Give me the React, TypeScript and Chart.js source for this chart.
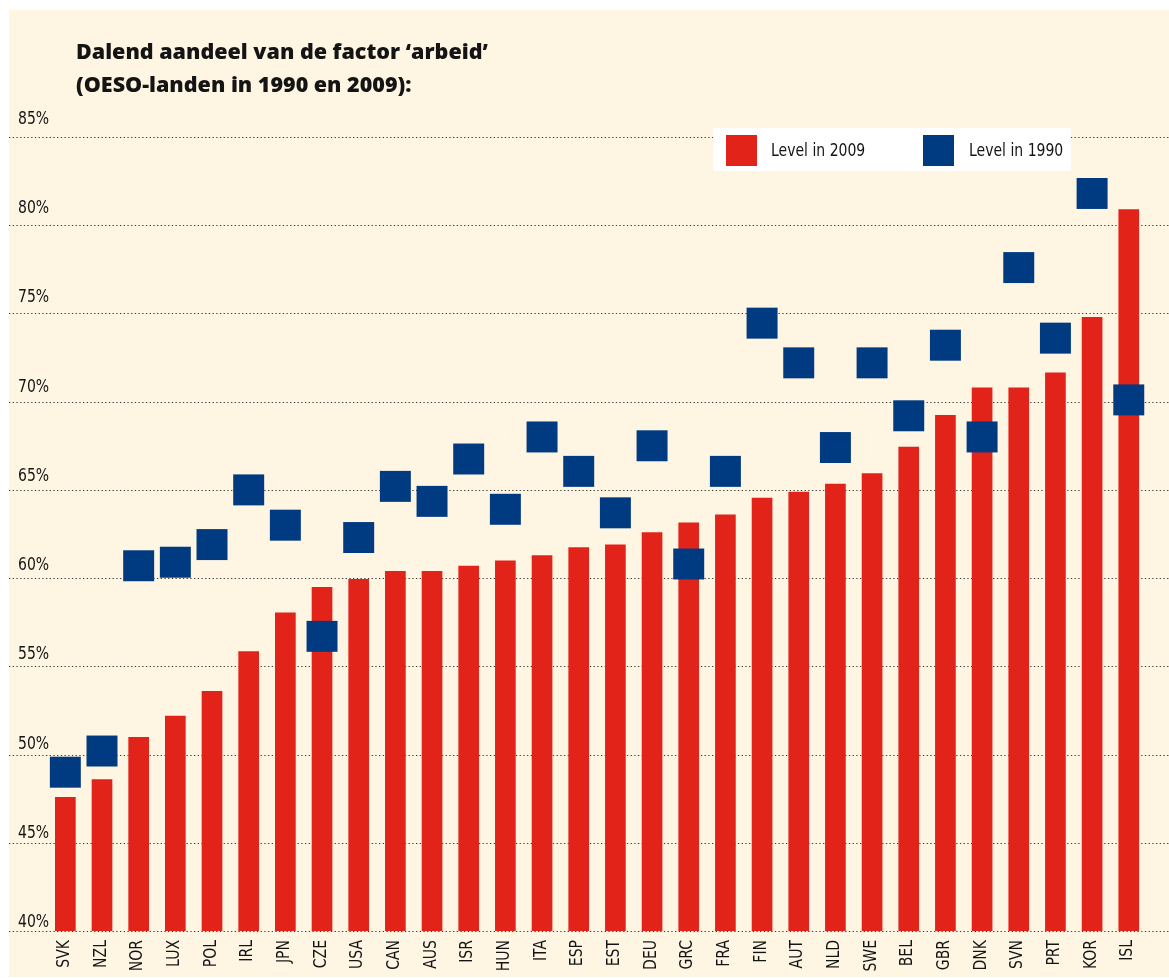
import React, { useEffect, useRef } from 'react';
import { Chart, registerables } from 'chart.js';

Chart.register(...registerables);

const countries = ['SVK', 'NZL', 'NOR', 'LUX', 'POL', 'IRL', 'JPN', 'CZE', 'USA', 'CAN', 'AUS', 'ISR', 'HUN', 'ITA', 'ESP', 'EST', 'DEU', 'GRC', 'FRA', 'FIN', 'AUT', 'NLD', 'SWE', 'BEL', 'GBR', 'DNK', 'SVN', 'PRT', 'KOR', 'ISL'];
const level2009 = [47.6, 48.6, 51.0, 52.2, 53.6, 55.85, 58.05, 59.5, 59.95, 60.4, 60.4, 60.7, 61.0, 61.3, 61.75, 61.9, 62.6, 63.15, 63.6, 64.55, 64.9, 65.35, 65.95, 67.45, 69.25, 70.8, 70.8, 71.65, 74.8, 80.9];
const level1990 = [49.0, 50.2, 60.7, 60.9, 61.9, 65.0, 63.0, 56.7, 62.3, 65.2, 64.35, 66.75, 63.9, 68.0, 66.05, 63.7, 67.5, 60.8, 66.05, 74.45, 72.2, 67.4, 72.2, 69.2, 73.2, 68.0, 77.6, 73.6, 81.8, 70.1];
const yTicks = [40, 45, 50, 55, 60, 65, 70, 75, 80, 85];
const titleLines = ['Dalend aandeel van de factor \u2018arbeid\u2019', '(OESO-landen in 1990 en 2009):'];
const seriesLabels = ['Level in 2009', 'Level in 1990'];

const W = 1169;
const H = 978;
const RED = '#E2231A';
const BLUE = '#003A80';
const CREAM = '#FEF5E3';
const TEXT = '#141414';
const NARROW = '17.5px "DejaVu Sans Condensed", "DejaVu Sans", sans-serif';
const SQX = 0.89;
const BOLD = '800 21.5px "Open Sans", Lato, sans-serif';

function narrowText(ctx: any, text: string, x: number, y: number, align: string) {
  ctx.save();
  ctx.translate(x, y);
  ctx.scale(SQX, 1);
  ctx.textAlign = align;
  ctx.fillText(text, 0, 0);
  ctx.restore();
}

const decorPlugin = {
  id: 'decor',
  beforeDraw(chart: any) {
    const ctx = chart.ctx;
    ctx.save();
    ctx.fillStyle = '#ffffff';
    ctx.fillRect(0, 0, W, H);
    ctx.fillStyle = CREAM;
    ctx.fillRect(9, 10, W - 9, 967);
    ctx.fillStyle = TEXT;
    ctx.font = BOLD;
    ctx.textAlign = 'left';
    ctx.textBaseline = 'alphabetic';
    ctx.fillText(titleLines[0], 76, 59);
    ctx.fillText(titleLines[1], 76, 92);
    ctx.restore();
  },
  beforeDatasetsDraw(chart: any) {
    const ctx = chart.ctx;
    const y = chart.scales.y;
    const x = chart.scales.x;
    ctx.save();
    ctx.strokeStyle = '#3a3a3a';
    ctx.lineWidth = 1.2;
    ctx.setLineDash([1.3, 2.4]);
    ctx.font = NARROW;
    ctx.fillStyle = TEXT;
    ctx.textBaseline = 'alphabetic';
    yTicks.forEach((v) => {
      const py = Math.round(y.getPixelForValue(v)) + 0.5;
      ctx.beginPath();
      ctx.moveTo(9, py);
      ctx.lineTo(W, py);
      ctx.stroke();
      const off = 5 + ((v - 40) / 5) * 0.9;
      narrowText(ctx, v + '%', 18, py - off, 'left');
    });
    ctx.setLineDash([]);
    countries.forEach((c, i) => {
      const px = x.getPixelForValue(i);
      ctx.save();
      ctx.translate(px - 1, 940);
      ctx.rotate(-Math.PI / 2);
      ctx.scale(SQX, 1);
      ctx.textAlign = 'right';
      ctx.textBaseline = 'middle';
      ctx.fillText(c, 0, 0);
      ctx.restore();
    });
    ctx.restore();
  },
  afterDatasetsDraw(chart: any) {
    const ctx = chart.ctx;
    const ds = chart.data.datasets;
    const bar = ds.find((d: any) => d.type === 'bar');
    const pts = ds.find((d: any) => d.type === 'line');
    ctx.save();
    ctx.fillStyle = '#ffffff';
    ctx.fillRect(713, 128, 358, 43);
    const items = [
      { color: bar.backgroundColor, label: bar.label, sx: 726, tx: 771 },
      { color: pts.pointBackgroundColor, label: pts.label, sx: 923, tx: 969 },
    ];
    ctx.font = NARROW;
    ctx.textBaseline = 'alphabetic';
    items.forEach((it) => {
      ctx.fillStyle = it.color;
      ctx.fillRect(it.sx, 135, 31, 31);
      ctx.fillStyle = TEXT;
      narrowText(ctx, it.label, it.tx, 156, 'left');
    });
    ctx.restore();
  },
};

export default function App() {
  const ref = useRef<HTMLCanvasElement | null>(null);
  useEffect(() => {
    if (!ref.current) return;
    const chart = new Chart(ref.current, {
      type: 'bar',
      data: {
        labels: countries,
        datasets: [
          {
            type: 'line',
            label: seriesLabels[1],
            data: level1990,
            showLine: false,
            pointStyle: 'rect',
            pointRadius: 21.9,
            pointHoverRadius: 21.9,
            pointBackgroundColor: BLUE,
            pointBorderWidth: 0,
            borderColor: BLUE,
            backgroundColor: BLUE,
            order: 0,
            clip: false,
          } as any,
          {
            type: 'bar',
            label: seriesLabels[0],
            data: level2009,
            backgroundColor: RED,
            borderWidth: 0,
            barPercentage: 0.564,
            categoryPercentage: 1,
            order: 1,
          } as any,
        ],
      },
      options: {
        responsive: false,
        animation: false,
        events: [],
        layout: { padding: { left: 47, right: 5, top: 137, bottom: 47 } },
        plugins: { legend: { display: false }, tooltip: { enabled: false }, title: { display: false } },
        scales: {
          x: { display: false },
          y: { display: false, min: 40, max: 85 },
        },
      },
      plugins: [decorPlugin],
    });
    return () => chart.destroy();
  }, []);
  return (
    <div style={{ position: 'fixed', left: 0, top: 0, width: W, height: H }}>
      <canvas ref={ref} width={W} height={H} style={{ display: 'block' }} />
    </div>
  );
}
